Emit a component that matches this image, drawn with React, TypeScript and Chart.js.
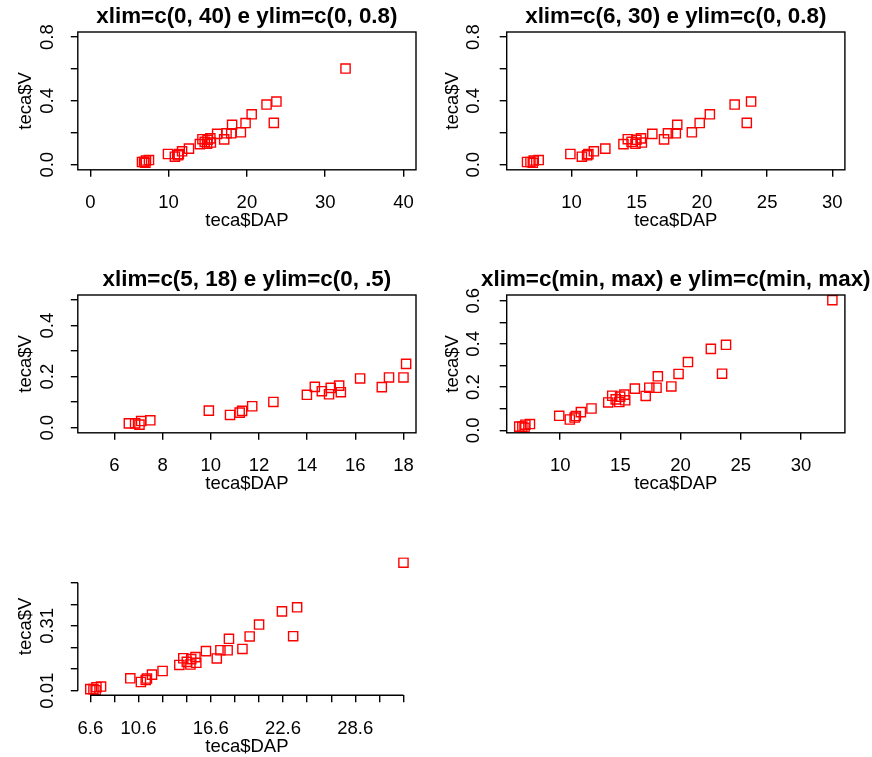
import React, { useEffect, useRef } from "react";
import { Chart, registerables } from "chart.js";

Chart.register(...registerables);

// ---- data (teca$DAP, teca$V) ----
const DAP = [6.6, 6.86, 7.04, 7.11, 7.49, 9.92, 10.8, 11.2, 11.3, 11.72, 12.6, 13.99, 14.32, 14.61, 14.91, 14.98, 15.33, 15.4, 16.2, 17.1, 17.4, 18.0, 18.11, 19.23, 19.83, 20.61, 22.51, 23.77, 23.44, 32.6];
const V = [0.017, 0.017, 0.012, 0.026, 0.029, 0.067, 0.05, 0.059, 0.066, 0.084, 0.101, 0.129, 0.16, 0.143, 0.131, 0.156, 0.165, 0.139, 0.193, 0.159, 0.197, 0.197, 0.25, 0.203, 0.261, 0.316, 0.377, 0.396, 0.262, 0.603];

const X_LABEL = "teca$DAP";
const Y_LABEL = "teca$V";

const TITLES = [
  "xlim=c(0, 40) e ylim=c(0, 0.8)",
  "xlim=c(6, 30) e ylim=c(0, 0.8)",
  "xlim=c(5, 18) e ylim=c(0, .5)",
  "xlim=c(min, max) e ylim=c(min, max)",
  "",
];

const DAP_MIN = Math.min(...DAP);
const DAP_MAX = Math.max(...DAP);
const V_MIN = Math.min(...V);
const V_MAX = Math.max(...V);

// axis limits
const XLIM_1 = [0, 40];
const YLIM_1 = [0, 0.8];
const XLIM_2 = [6, 30];
const YLIM_2 = [0, 0.8];
const XLIM_3 = [5, 18];
const YLIM_3 = [0, 0.5];
const XLIM_4 = [DAP_MIN, DAP_MAX];
const YLIM_4 = [V_MIN, V_MAX];
const XLIM_5 = [DAP_MIN, DAP_MAX];
const YLIM_5 = [V_MIN, V_MAX];

// ticks and tick labels
const XTICKS_1 = [0, 10, 20, 30, 40];
const XLABELS_1 = ["0", "10", "20", "30", "40"];
const YTICKS_1 = [0, 0.2, 0.4, 0.6, 0.8];
const YLABELS_1 = ["0.0", "", "0.4", "", "0.8"];

const XTICKS_2 = [10, 15, 20, 25, 30];
const XLABELS_2 = ["10", "15", "20", "25", "30"];
const YTICKS_2 = [0, 0.2, 0.4, 0.6, 0.8];
const YLABELS_2 = ["0.0", "", "0.4", "", "0.8"];

const XTICKS_3 = [6, 8, 10, 12, 14, 16, 18];
const XLABELS_3 = ["6", "8", "10", "12", "14", "16", "18"];
const YTICKS_3 = [0, 0.1, 0.2, 0.3, 0.4, 0.5];
const YLABELS_3 = ["0.0", "", "0.2", "", "0.4", ""];

const XTICKS_4 = [10, 15, 20, 25, 30];
const XLABELS_4 = ["10", "15", "20", "25", "30"];
const YTICKS_4 = [0, 0.1, 0.2, 0.3, 0.4, 0.5, 0.6];
const YLABELS_4 = ["0.0", "", "0.2", "", "0.4", "", "0.6"];

const XTICKS_5 = [6.6, 8.6, 10.6, 12.6, 14.6, 16.6, 18.6, 20.6, 22.6, 24.6, 26.6, 28.6, 30.6, 32.6];
const XLABELS_5 = ["6.6", "", "10.6", "", "", "16.6", "", "", "22.6", "", "", "28.6", "", ""];
const YTICKS_5 = [0.01, 0.11, 0.21, 0.31, 0.41, 0.51];
const YLABELS_5 = ["0.01", "", "", "0.31", "", ""];

// ---- layout (px) ----
const CANVAS_LEFTS = [0, 436];
const CANVAS_TOPS = [0, 263, 525];
const CANVAS_W = [436, 500];
const CANVAS_H = 262;
const PLOT_LEFT_REL = [77.8, 70.7];
const PLOT_TOP_REL = [32, 32, 32.5];
const PLOT_W = 338.2;
const PLOT_H = 137.8;
const YTICK_OFF = [25, 27.5];
const YTITLE_OFF = [46.5, 49];
const XTICK_OFF = 38.5;
const XTITLE_OFF = 56.5;
const TITLE_OFF = 9;
const FONT = '"Liberation Sans", Arial, Helvetica, sans-serif';
const TICK_SIZE = 18.5;
const TITLE_SIZE = 22.4;
const LW = 1.4;

const PANELS = [
  { col: 0, row: 0, title: TITLES[0], xlim: XLIM_1, ylim: YLIM_1, xticks: XTICKS_1, xlabels: XLABELS_1, yticks: YTICKS_1, ylabels: YLABELS_1, box: true },
  { col: 1, row: 0, title: TITLES[1], xlim: XLIM_2, ylim: YLIM_2, xticks: XTICKS_2, xlabels: XLABELS_2, yticks: YTICKS_2, ylabels: YLABELS_2, box: true },
  { col: 0, row: 1, title: TITLES[2], xlim: XLIM_3, ylim: YLIM_3, xticks: XTICKS_3, xlabels: XLABELS_3, yticks: YTICKS_3, ylabels: YLABELS_3, box: true },
  { col: 1, row: 1, title: TITLES[3], xlim: XLIM_4, ylim: YLIM_4, xticks: XTICKS_4, xlabels: XLABELS_4, yticks: YTICKS_4, ylabels: YLABELS_4, box: true },
  { col: 0, row: 2, title: TITLES[4], xlim: XLIM_5, ylim: YLIM_5, xticks: XTICKS_5, xlabels: XLABELS_5, yticks: YTICKS_5, ylabels: YLABELS_5, box: false },
];

function Panel({ p, idx }: { p: any; idx: number }) {
  const ref = useRef<HTMLCanvasElement | null>(null);
  const cw = CANVAS_W[p.col];

  useEffect(() => {
    if (!ref.current) return;
    const left = PLOT_LEFT_REL[p.col];
    const top = PLOT_TOP_REL[p.row];
    const dx = p.xlim[1] - p.xlim[0];
    const dy = p.ylim[1] - p.ylim[0];

    const rplot = {
      id: "rplot" + idx,
      afterDraw(chart: any) {
        const ctx = chart.ctx;
        const a = chart.chartArea;
        const xs = chart.scales.x;
        const ys = chart.scales.y;
        ctx.save();
        ctx.strokeStyle = "#000";
        ctx.fillStyle = "#000";
        ctx.lineWidth = LW;
        if (p.box) {
          ctx.strokeRect(a.left, a.top, a.right - a.left, a.bottom - a.top);
        } else {
          ctx.beginPath();
          ctx.moveTo(xs.getPixelForValue(p.xticks[0]), a.bottom);
          ctx.lineTo(xs.getPixelForValue(p.xticks[p.xticks.length - 1]), a.bottom);
          ctx.moveTo(a.left, ys.getPixelForValue(p.yticks[0]));
          ctx.lineTo(a.left, ys.getPixelForValue(p.yticks[p.yticks.length - 1]));
          ctx.stroke();
        }
        ctx.font = `${TICK_SIZE}px ${FONT}`;
        ctx.textAlign = "center";
        ctx.textBaseline = "alphabetic";
        p.xticks.forEach((v: number, i: number) => {
          const t = p.xlabels[i];
          if (t) ctx.fillText(t, xs.getPixelForValue(v), a.bottom + XTICK_OFF);
        });
        ctx.fillText(X_LABEL, (a.left + a.right) / 2, a.bottom + XTITLE_OFF);
        p.yticks.forEach((v: number, i: number) => {
          const t = p.ylabels[i];
          if (!t) return;
          ctx.save();
          ctx.translate(a.left - YTICK_OFF[p.col], ys.getPixelForValue(v));
          ctx.rotate(-Math.PI / 2);
          ctx.fillText(t, 0, 0);
          ctx.restore();
        });
        ctx.save();
        ctx.translate(a.left - YTITLE_OFF[p.col], (a.top + a.bottom) / 2);
        ctx.rotate(-Math.PI / 2);
        ctx.fillText(Y_LABEL, 0, 0);
        ctx.restore();
        if (p.title) {
          ctx.font = `bold ${TITLE_SIZE}px ${FONT}`;
          ctx.fillText(p.title, (a.left + a.right) / 2, a.top - TITLE_OFF);
        }
        ctx.restore();
      },
    };

    const grid = {
      drawOnChartArea: false,
      drawTicks: true,
      tickLength: 7,
      tickWidth: LW,
      tickColor: "#000",
      color: "#000",
      lineWidth: LW,
    };

    const chart = new Chart(ref.current, {
      type: "scatter",
      data: {
        datasets: [
          {
            data: DAP.map((x, i) => ({ x, y: V[i] })),
            pointStyle: "rect",
            pointRadius: 6.5,
            pointHoverRadius: 6.5,
            pointBorderWidth: 1.4,
            pointBorderColor: "#ff0000",
            pointBackgroundColor: "rgba(0,0,0,0)",
            borderColor: "#ff0000",
            backgroundColor: "rgba(0,0,0,0)",
          },
        ],
      },
      options: {
        animation: false,
        responsive: false,
        devicePixelRatio: 1,
        events: [],
        layout: {
          autoPadding: false,
          padding: { top, left: 0, right: cw - left - PLOT_W, bottom: 0 },
        },
        plugins: {
          legend: { display: false },
          tooltip: { enabled: false },
          title: { display: false },
        },
        scales: {
          x: {
            type: "linear",
            position: "bottom",
            min: p.xlim[0] - 0.04 * dx,
            max: p.xlim[1] + 0.04 * dx,
            afterBuildTicks: (s: any) => {
              s.ticks = p.xticks.map((v: number) => ({ value: v }));
            },
            afterFit: (s: any) => {
              s.height = CANVAS_H - top - PLOT_H;
            },
            ticks: { display: false, autoSkip: false },
            grid,
            border: { display: false },
          },
          y: {
            type: "linear",
            position: "left",
            min: p.ylim[0] - 0.04 * dy,
            max: p.ylim[1] + 0.04 * dy,
            afterBuildTicks: (s: any) => {
              s.ticks = p.yticks.map((v: number) => ({ value: v }));
            },
            afterFit: (s: any) => {
              s.width = left;
            },
            ticks: { display: false, autoSkip: false },
            grid,
            border: { display: false },
          },
        },
      } as any,
      plugins: [rplot],
    });
    return () => chart.destroy();
  }, []);

  return (
    <canvas
      ref={ref}
      width={cw}
      height={CANVAS_H}
      style={{
        position: "absolute",
        left: CANVAS_LEFTS[p.col],
        top: CANVAS_TOPS[p.row],
        width: cw,
        height: CANVAS_H,
      }}
    />
  );
}

export default function App() {
  return (
    <div
      style={{
        position: "absolute",
        left: 0,
        top: 0,
        width: 872,
        height: 757,
        overflow: "hidden",
        background: "#fff",
      }}
    >
      {PANELS.map((p, i) => (
        <Panel key={i} p={p} idx={i} />
      ))}
    </div>
  );
}
